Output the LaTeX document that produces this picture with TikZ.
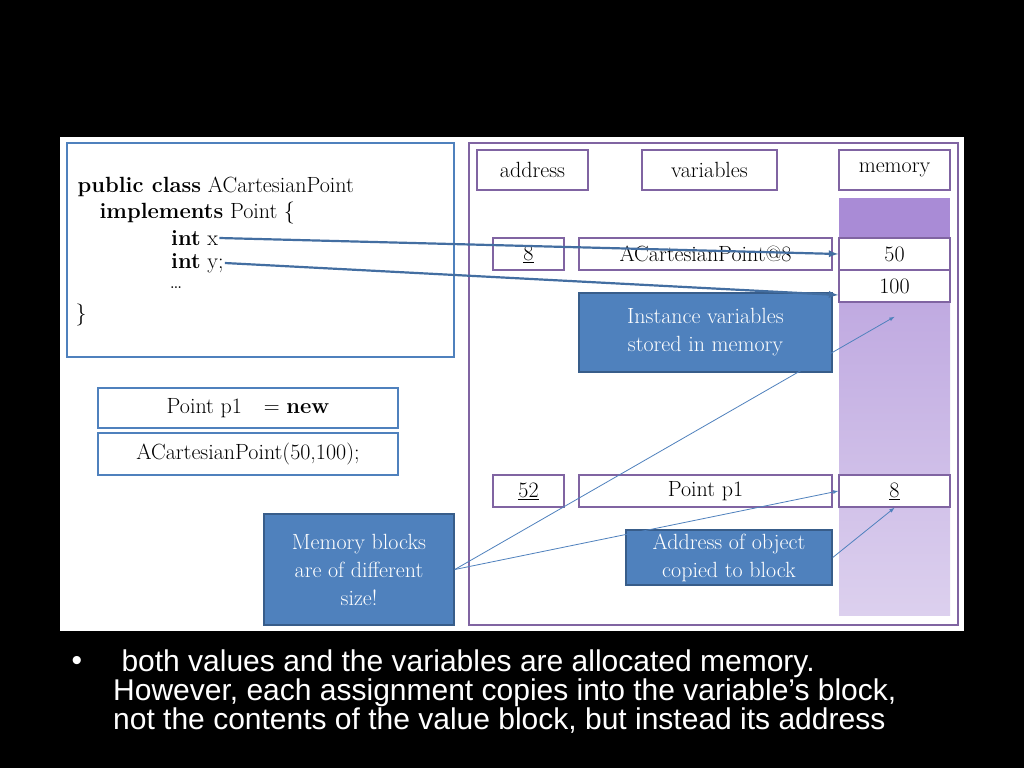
\documentclass[tikz,border=0pt]{standalone}
\usepackage{fontspec}
\newfontfamily\bulletfont{Liberation Sans}
\usetikzlibrary{calc}
\definecolor{boxblue}{HTML}{4F81BD}
\definecolor{darkblue}{HTML}{385D8A}
\definecolor{boxpurple}{HTML}{8064A2}
\definecolor{memtop}{HTML}{A98BD6}
\definecolor{memlow}{HTML}{DCD0EE}
\tikzset{
  txt/.style={font=\fontsize{22}{26}\selectfont},
  cell/.style={draw=boxpurple, line width=1.5pt, fill=white, inner sep=0pt, txt},
  codebox/.style={draw=boxblue, line width=1.5pt, fill=white, inner sep=0pt, txt},
  note/.style={draw=darkblue, line width=1.5pt, fill=boxblue, text=white, inner sep=0pt, align=center, font=\fontsize{22}{28}\selectfont},
  bigarrow/.style={draw=boxblue!85!black, line width=2.2pt, -latex},
  thinarrow/.style={draw=boxblue, line width=0.8pt, -latex}
}
\begin{document}
\begin{tikzpicture}[x=1pt,y=-1pt]
    \fill[black] (0,0) rectangle (1024,768);
    \useasboundingbox (0,0) rectangle (1024,768);
    \fill[white] (60,137) rectangle (964,631);

    % code
    \draw[boxblue, line width=1.5pt] (67,143) rectangle (454,357);
    \node[anchor=west, txt] (l1) at (74,187) {\textbf{public class} ACartesianPoint};
    \node[anchor=west, txt] (l2) at (96,213) {\textbf{implements} Point \{};
    \node[anchor=west, txt, inner sep=1pt] (lx) at (170,238) {\textbf{int} x};
    \node[anchor=west, txt, inner sep=1pt] (ly) at (170,263) {\textbf{int} y;};
    \node[anchor=west, txt] (l5) at (166,288) {\dots};
    \node[anchor=west, txt] (l6) at (72,315) {\}};

    \node[codebox, minimum width=300, minimum height=40] (decl) at (248,408) {Point p1\quad = \textbf{new}};
    \node[codebox, minimum width=300, minimum height=42] (ctor) at (248,454) {ACartesianPoint(50,100);};

    % memory panel
    \draw[boxpurple, line width=1.5pt] (469,143) rectangle (958,625);
    \node[cell, minimum width=111, minimum height=40] (haddr) at (532.5,170) {address};
    \node[cell, minimum width=135, minimum height=40] (hvar) at (709.5,170) {variables};
    \node[cell, minimum width=111, minimum height=40] (hmem) at (894.5,170) {memory};

    \fill[memtop] (839,198) rectangle (950,238);
    \shade[top color=memtop!80!white, bottom color=memlow] (839,238) rectangle (950,615);

    \node[cell, minimum width=71, minimum height=32] (a8) at (528.5,254) {\underline{8}};
    \node[cell, minimum width=253, minimum height=32] (vobj) at (705.5,254) {ACartesianPoint@8};
    \node[cell, minimum width=111, minimum height=32] (m50) at (894.5,254) {50};
    \node[cell, minimum width=111, minimum height=32] (m100) at (894.5,286) {100};

    \node[cell, minimum width=71, minimum height=32] (a52) at (528.5,491) {\underline{52}};
    \node[cell, minimum width=253, minimum height=32] (vp1) at (705.5,491) {Point p1};
    \node[cell, minimum width=111, minimum height=32] (m8) at (894.5,491) {\underline{8}};

    % notes
    \node[note, minimum width=253, minimum height=79] (inst) at (705.5,332.5) {Instance variables\\stored in memory};
    \node[note, minimum width=206, minimum height=55] (addr) at (729,557.5) {Address of object\\copied to block};
    \node[note, minimum width=190, minimum height=111] (blocks) at (359,569.5) {Memory blocks\\are of different\\size!};

    % arrows
    \draw[bigarrow] (lx.east) -- (m50.west);
    \draw[bigarrow] (ly.east) -- ($(m100.west)+(0,9)$);
    \draw[thinarrow] (blocks.east) -- ($(m100.south)+(0,14)$);
    \draw[thinarrow] (blocks.east) -- (m8.west);
    \draw[thinarrow] (addr.east) -- (m8.south);

    % bullet text
    \node[anchor=west, text=white, font=\bulletfont\fontsize{30}{27}\selectfont] (bul) at (68,663) {\textbullet};
    \node[anchor=north west, text=white, align=left, inner sep=0pt,
          font=\bulletfont\fontsize{30}{27}\selectfont] (txt) at (113,650)
          {\ both values and the variables are allocated memory.\\However, each assignment copies into the variable’s block,\\not the contents of the value block, but instead its address};
\end{tikzpicture}
\end{document}
